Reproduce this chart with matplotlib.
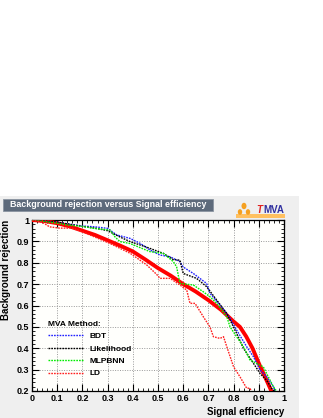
import matplotlib
matplotlib.use("Agg")
import matplotlib.pyplot as plt
from matplotlib.patches import Rectangle, Circle
from matplotlib.ticker import MultipleLocator

plt.rcParams['font.family'] = ['Liberation Sans', 'DejaVu Sans']

# ROC curves (signal efficiency, background rejection)
bdt_eff = [0.0, 0.05, 0.1, 0.15, 0.2, 0.25, 0.3, 0.336, 0.389, 0.43, 0.468, 0.508, 0.548, 0.587,
           0.6, 0.64, 0.693, 0.706, 0.746, 0.786, 0.812, 0.852, 0.879, 0.905, 0.931, 0.958, 0.965]
bdt_rej = [1.0, 0.995, 0.99, 0.98, 0.972, 0.968, 0.961, 0.93, 0.914, 0.89, 0.86, 0.836, 0.828, 0.805,
           0.78, 0.75, 0.703, 0.657, 0.602, 0.54, 0.485, 0.407, 0.36, 0.298, 0.267, 0.22, 0.2]

lik_eff = [0.0, 0.05, 0.1, 0.15, 0.2, 0.25, 0.3, 0.35, 0.389, 0.45, 0.521, 0.56, 0.587, 0.6,
           0.653, 0.693, 0.733, 0.773, 0.812, 0.839, 0.879, 0.905, 0.931, 0.951, 0.96]
lik_rej = [1.0, 0.995, 0.99, 0.98, 0.97, 0.962, 0.95, 0.92, 0.899, 0.875, 0.844, 0.815, 0.812, 0.75,
           0.727, 0.688, 0.625, 0.563, 0.47, 0.40, 0.329, 0.282, 0.25, 0.212, 0.2]

mlp_eff = [0.0, 0.05, 0.1, 0.15, 0.2, 0.25, 0.31, 0.33, 0.349, 0.389, 0.468, 0.521, 0.561, 0.574,
           0.587, 0.64, 0.68, 0.706, 0.733, 0.773, 0.786, 0.812, 0.839, 0.865, 0.892, 0.918, 0.931,
           0.958, 0.97]
mlp_rej = [1.0, 0.993, 0.985, 0.975, 0.97, 0.96, 0.953, 0.92, 0.899, 0.89, 0.852, 0.844, 0.805, 0.78,
           0.703, 0.696, 0.664, 0.641, 0.61, 0.547, 0.50, 0.454, 0.407, 0.345, 0.329, 0.313, 0.282,
           0.22, 0.2]

ld_eff = [0.0, 0.04, 0.07, 0.11, 0.16, 0.2, 0.25, 0.31, 0.39, 0.455, 0.495, 0.508, 0.548, 0.587,
          0.614, 0.627, 0.647, 0.68, 0.706, 0.72, 0.746, 0.76, 0.773, 0.8, 0.825, 0.852, 0.865, 0.87]
ld_rej = [1.0, 0.99, 0.968, 0.962, 0.962, 0.945, 0.92, 0.89, 0.844, 0.79, 0.745, 0.727, 0.727, 0.696,
          0.672, 0.61, 0.61, 0.547, 0.50, 0.454, 0.446, 0.454, 0.407, 0.313, 0.267, 0.213, 0.213, 0.2]

# smooth red reference curve
fit_eff = [0.0, 0.05, 0.1, 0.15, 0.2, 0.25, 0.3, 0.35, 0.4, 0.45, 0.5, 0.55, 0.6, 0.65, 0.7, 0.75,
           0.8, 0.825, 0.85, 0.875, 0.9, 0.925, 0.95]
fit_rej = [1.0, 0.995, 0.985, 0.97, 0.95, 0.93, 0.905, 0.88, 0.853, 0.815, 0.775, 0.74, 0.70, 0.665,
           0.625, 0.58, 0.525, 0.50, 0.455, 0.40, 0.33, 0.265, 0.2]

x_ticks = [0, 0.1, 0.2, 0.3, 0.4, 0.5, 0.6, 0.7, 0.8, 0.9, 1]
x_labels = ["0", "0.1", "0.2", "0.3", "0.4", "0.5", "0.6", "0.7", "0.8", "0.9", "1"]
y_ticks = [0.2, 0.3, 0.4, 0.5, 0.6, 0.7, 0.8, 0.9, 1]
y_labels = ["0.2", "0.3", "0.4", "0.5", "0.6", "0.7", "0.8", "0.9", "1"]

W, H = 323, 418
fig = plt.figure(figsize=(W / 100, H / 100), dpi=100)

# gray canvas area
fig.patches.append(Rectangle((0, 0), 299 / W, (H - 196) / H, transform=fig.transFigure,
                             facecolor="#efefef", edgecolor="none", zorder=-5))
# title box
fig.patches.append(Rectangle((3 / W, (H - 211) / H), 210 / W, 12 / H, transform=fig.transFigure,
                             facecolor="#5d6a7b", edgecolor="#8a94a0", lw=0.6, zorder=1))
fig.text(108 / W, (H - 205) / H, "Background rejection versus Signal efficiency", color="white",
         fontsize=6.4, fontweight="bold", ha="center", va="center")

# TMVA logo
fig.patches.append(Rectangle((236 / W, (H - 218) / H), 49 / W, 4 / H, transform=fig.transFigure,
                             facecolor="#ffc060", edgecolor="none", zorder=1))
for cx, cy, r in [(244, 206, 2.5), (240, 212, 2.2), (248, 212, 2.2)]:
    fig.patches.append(Circle((cx / W, (H - cy) / H), r / W, transform=fig.transFigure,
                              facecolor="#f5a020", edgecolor="none", zorder=2))
fig.text(262 / W, (H - 210) / H, "T", color="#e02020", fontsize=7, fontweight="bold",
         fontstyle="italic", ha="right", va="center")
fig.text(263 / W, (H - 210) / H, "MVA", color="#3030a0", fontsize=7, fontweight="bold",
         ha="left", va="center")

ax = fig.add_axes([32 / W, (H - 391) / H, 252 / W, 171 / H])
ax.set_zorder(3)
ax.set_facecolor("#fffffc")

ax.plot(fit_eff, fit_rej, color="#ff0000", lw=2.8, zorder=3)
ax.plot(bdt_eff, bdt_rej, color="#2020ff", lw=1.0, ls=(0, (1.2, 0.8)), label="BDT", zorder=4)
ax.plot(lik_eff, lik_rej, color="black", lw=1.0, ls=(0, (1.2, 0.8)), label="Likelihood", zorder=4)
ax.plot(mlp_eff, mlp_rej, color="#00ee00", lw=1.0, ls=(0, (1.2, 0.8)), label="MLPBNN", zorder=4)
ax.plot(ld_eff, ld_rej, color="#ff2020", lw=1.0, ls=(0, (1.2, 0.8)), label="LD", zorder=4)

ax.set_xlim(0, 1)
ax.set_ylim(0.2, 1)
ax.set_xticks(x_ticks)
ax.set_xticklabels(x_labels)
ax.set_yticks(y_ticks)
ax.set_yticklabels(y_labels)
ax.xaxis.set_minor_locator(MultipleLocator(0.02))
ax.yaxis.set_minor_locator(MultipleLocator(0.02))
ax.tick_params(which="both", direction="in", top=True, right=True, labelsize=6.5, pad=2)
ax.tick_params(which="major", length=5, width=0.8)
ax.tick_params(which="minor", length=2.5, width=0.6)
for lab in ax.get_xticklabels() + ax.get_yticklabels():
    lab.set_fontweight("bold")
for sp in ax.spines.values():
    sp.set_linewidth(0.9)
ax.grid(True, which="major", color="#999999", ls=(0, (1, 1.5)), lw=0.7)

ax.set_xlabel("Signal efficiency", fontsize=7, fontweight="bold", loc="right", labelpad=3)
ax.set_ylabel("Background rejection", fontsize=7, fontweight="bold", loc="top", labelpad=4)

leg = ax.legend(loc="upper left", bbox_to_anchor=(0.05, 0.43), frameon=False, fontsize=6,
                title="MVA Method:", alignment="left", handlelength=4.2, handletextpad=0.8,
                labelspacing=0.55, borderaxespad=0)
leg.get_title().set_fontsize(6)
leg.get_title().set_fontweight("bold")
for t in leg.get_texts():
    t.set_fontweight("bold")

fig.savefig("out.png", dpi=100)
